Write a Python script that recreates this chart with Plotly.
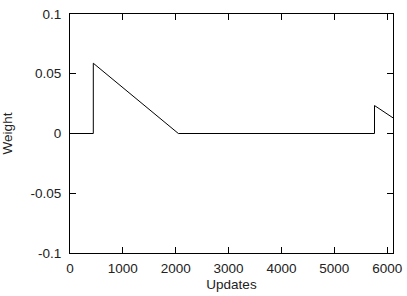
import plotly.graph_objects as go

updates = [0, 441, 441, 2050, 5760, 5760, 6110]
weight = [0, 0, 0.0588, 0, 0, 0.0234, 0.0131]

x_ticks = [0, 1000, 2000, 3000, 4000, 5000, 6000]
y_ticks = [-0.1, -0.05, 0, 0.05, 0.1]
y_tick_text = ["-0.1", "-0.05", "0", "0.05", "0.1"]

fig = go.Figure()
fig.add_trace(go.Scatter(x=updates, y=weight, mode="lines",
                         line=dict(color="black", width=1), showlegend=False))

font = dict(family="Liberation Sans, Arial, sans-serif", size=13.5, color="#222")
fig.update_layout(
    width=407, height=296,
    margin=dict(l=70, r=14, t=14, b=43, autoexpand=False),
    paper_bgcolor="white", plot_bgcolor="white",
    font=font,
)
fig.update_xaxes(range=[0, 6110], tickvals=x_ticks, ticks="inside", ticklen=6,
                 tickcolor="black", showline=True, linecolor="black", linewidth=1,
                 mirror="ticks", showgrid=False, zeroline=False,
                 ticklabelstandoff=3, automargin=False,
                 title=dict(text="Updates", font=font, standoff=4))
fig.update_yaxes(range=[-0.1, 0.1], tickvals=y_ticks, ticktext=y_tick_text,
                 ticks="inside", ticklen=6,
                 tickcolor="black", showline=True, linecolor="black", linewidth=1,
                 mirror="ticks", showgrid=False, zeroline=False,
                 ticklabelstandoff=5, automargin=False,
                 title=dict(text="Weight", font=font, standoff=14))
fig.write_html("out.html")
